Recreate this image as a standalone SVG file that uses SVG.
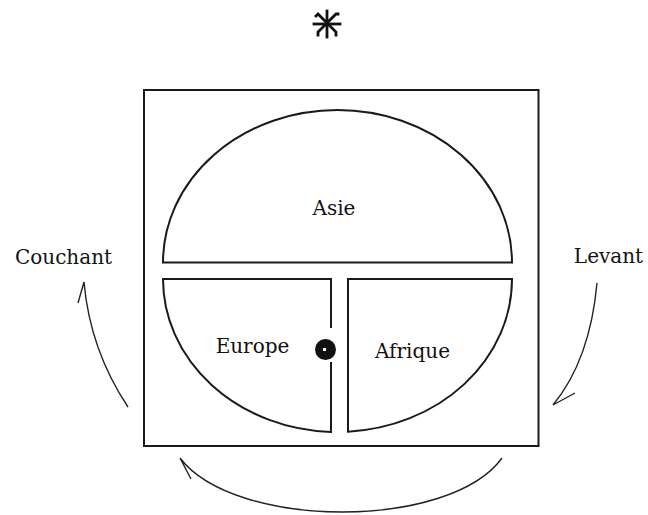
<svg xmlns="http://www.w3.org/2000/svg" width="648" height="515" viewBox="0 0 648 515">
<style>
.ln{fill:none;stroke:#1a1a1a;stroke-width:2}
.cv{fill:none;stroke:#222;stroke-width:1.4}
.lbl{font-family:"DejaVu Serif","Liberation Serif",serif;font-size:20px;fill:#111;text-anchor:middle}
</style>
<rect width="648" height="515" fill="#fff"/>
<g id="star" stroke="#111" stroke-width="2.8" fill="none" stroke-linecap="square">
<line x1="327" y1="11" x2="327" y2="37"/>
<line x1="314" y1="24" x2="340" y2="24"/>
<polyline points="316,16 318,14 336,32 336,35"/>
<polyline points="338,14 336,14 318,32 318,35"/>
</g>
<g id="frame"><rect class="ln" x="144" y="90" width="394.5" height="356"/></g>
<g id="asie">
<path class="ln" d="M163,262.5 A174.5,152.5 0 0 1 512,262.5 Z"/>
<text class="lbl" x="334" y="215">Asie</text>
</g>
<g id="europe">
<path class="ln" d="M331,362 V431.9 A174.5,153 0 0 1 163,279 H331 V328"/>
<text class="lbl" x="252.5" y="353">Europe</text>
</g>
<g id="afrique">
<path class="ln" d="M348,279 H512 A174.5,153 0 0 1 348,431.7 Z"/>
<text class="lbl" x="412.5" y="358">Afrique</text>
</g>
<g id="centre">
<circle cx="325.5" cy="349.5" r="10.5" fill="#111"/>
<rect x="323" y="348" width="3" height="3" fill="#fff"/>
</g>
<g id="couchant"><text class="lbl" x="63.5" y="264">Couchant</text></g>
<g id="levant"><text class="lbl" x="608.5" y="263">Levant</text></g>
<g id="connectors">
<path class="cv" d="M128,407 Q90,350 84,282 M84,282 L78,303"/>
<path class="cv" d="M597,283 Q590,360 553,405 M553,405 L575,393"/>
<path class="cv" d="M502,458 C450,530 235,530 180,458 M180,458 L191,479"/>
</g>
</svg>
